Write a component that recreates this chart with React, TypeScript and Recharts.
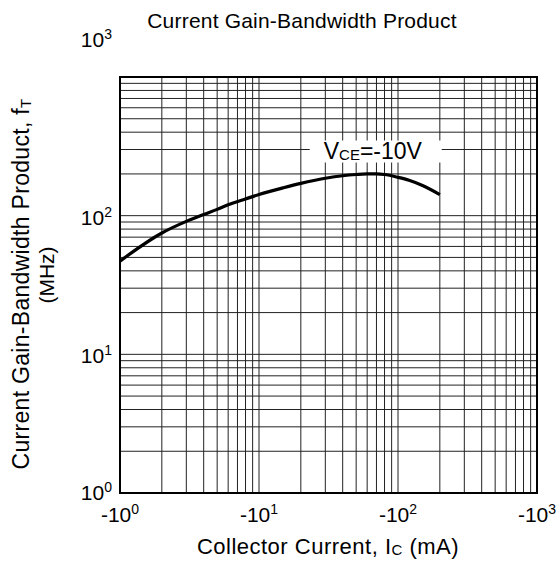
import React from 'react';
import { LineChart, Line, XAxis, YAxis, CartesianGrid, ReferenceArea, ReferenceDot } from 'recharts';

// collector current, mA (plotted as magnitude, axis labels carry the minus sign)
const collectorCurrent = [1, 2, 3, 4, 5, 6, 8, 10, 15, 20, 30, 40, 50, 60, 70, 80, 100, 120, 150, 200];
// current gain-bandwidth product fT, MHz at VCE = -10V
const gainBandwidth = [47, 75, 91, 102, 111, 120, 132, 142, 159, 171, 186, 194, 198, 200, 200, 198, 189, 180, 165, 142];

const logGridTicks = [
    1, 2, 3, 4, 5, 6, 7, 8, 9,
    10, 20, 30, 40, 50, 60, 70, 80, 90,
    100, 200, 300, 400, 500, 600, 700, 800, 900,
    1000,
];
const decadeTicks = [1, 10, 100, 1000];
const decadeExponent: Record<number, string> = { 1: '0', 10: '1', 100: '2', 1000: '3' };

const curveLabel = { x: 68, y: 300 };

const FONT = '"Liberation Sans", Arial, Helvetica, sans-serif';

const chartData = collectorCurrent.map((ic, i) => ({ ic, ft: gainBandwidth[i] }));

const XTick = (props: any) => {
    const { x, y, payload } = props;
    if (!decadeTicks.includes(payload.value)) return null;
    return (
        <text x={x} y={y + 27} textAnchor="middle" fontFamily={FONT} fontSize={21} fill="#000">
            <tspan>-10</tspan>
            <tspan dy={-8} fontSize={14}>{decadeExponent[payload.value]}</tspan>
        </text>
    );
};

const YTick = (props: any) => {
    const { x, y, payload } = props;
    if (!decadeTicks.includes(payload.value)) return null;
    // the 10^3 label sits well above the frame in the original
    const shift = payload.value === 1000 ? -30 : payload.value === 1 ? 7 : 9;
    return (
        <text x={x - 8} y={y + shift} textAnchor="end" fontFamily={FONT} fontSize={21} fill="#000">
            <tspan>10</tspan>
            <tspan dy={-8} fontSize={14}>{decadeExponent[payload.value]}</tspan>
        </text>
    );
};

const VceLabel = (props: any) => {
    const { cx, cy } = props;
    return (
        <g>
            <rect x={cx - 65} y={cy - 9} width={132} height={22} fill="#fff" />
            <text x={cx - 51} y={cy + 9} fontFamily={FONT} fontSize={23} fill="#000">
                <tspan>V</tspan>
                <tspan fontSize={15} dy={1}>CE</tspan>
                <tspan dy={-1}>=-10V</tspan>
            </text>
        </g>
    );
};

export default function App() {
    return (
        <div style={{ position: 'absolute', left: 0, top: 0, width: 560, height: 564, background: '#fff' }}>
            <LineChart width={560} height={564} data={chartData} margin={{ top: 77, right: 23, left: 0, bottom: 0 }}>
                <CartesianGrid stroke="#222" strokeWidth={1} />
                <XAxis
                    dataKey="ic"
                    type="number"
                    scale="log"
                    domain={[1, 1000]}
                    ticks={logGridTicks}
                    interval={0}
                    allowDataOverflow
                    axisLine={false}
                    tickLine={false}
                    tickSize={0}
                    height={71}
                    tick={<XTick />}
                />
                <YAxis
                    type="number"
                    scale="log"
                    domain={[1, 1000]}
                    ticks={logGridTicks}
                    interval={0}
                    allowDataOverflow
                    axisLine={false}
                    tickLine={false}
                    tickSize={0}
                    tickMargin={0}
                    width={120}
                    tick={<YTick />}
                />
                <ReferenceArea x1={1} x2={1000} y1={1} y2={1000} fill="none" stroke="#000" strokeWidth={2} />
                <Line
                    type="monotone"
                    dataKey="ft"
                    stroke="#000"
                    strokeWidth={3.2}
                    dot={false}
                    isAnimationActive={false}
                />
                <ReferenceDot x={curveLabel.x} y={curveLabel.y} r={0} shape={<VceLabel />} />
            </LineChart>
            <svg width={560} height={564} style={{ position: 'absolute', left: 0, top: 0, pointerEvents: 'none' }}>
                <text x={302} y={28} textAnchor="middle" fontFamily={FONT} fontSize={21} letterSpacing={0.2} fill="#000">
                    Current Gain-Bandwidth Product
                </text>
                <text x={328} y={554} textAnchor="middle" fontFamily={FONT} fontSize={22} letterSpacing={0.5} fill="#000">
                    <tspan>Collector Current, I</tspan>
                    <tspan fontSize={15} dy={1}>C</tspan>
                    <tspan dy={-1}> (mA)</tspan>
                </text>
                <text x={29} y={284} transform="rotate(-90 29 284)" textAnchor="middle" fontFamily={FONT} fontSize={23} letterSpacing={0.3} fill="#000">
                    <tspan>Current Gain-Bandwidth Product, f</tspan>
                    <tspan fontSize={15} dy={2}>T</tspan>
                </text>
                <text x={54} y={275} transform="rotate(-90 54 275)" textAnchor="middle" fontFamily={FONT} fontSize={21} fill="#000">
                    (MHz)
                </text>
            </svg>
        </div>
    );
}
